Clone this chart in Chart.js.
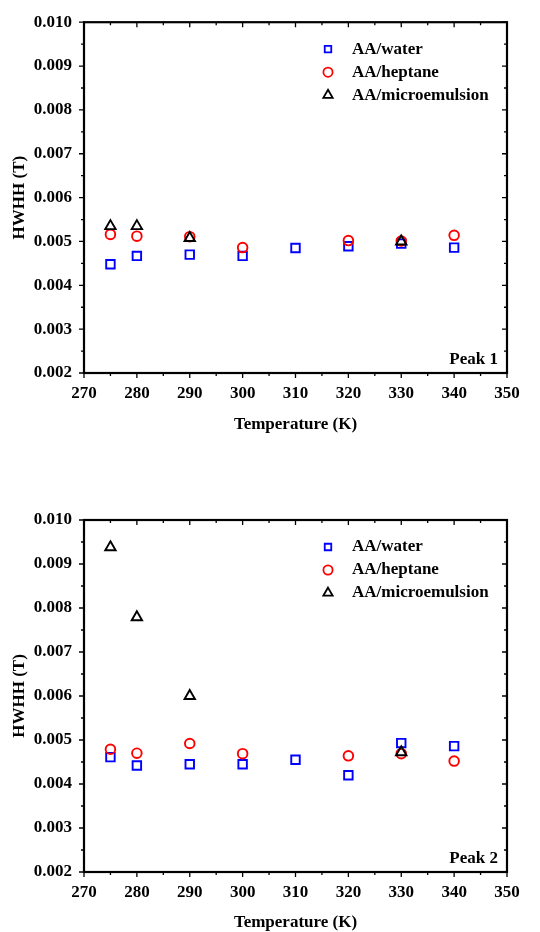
<!DOCTYPE html>
<html>
<head>
<meta charset="utf-8">
<script src="https://cdn.jsdelivr.net/npm/chart.js@4.4.1/dist/chart.umd.min.js"></script>
<style>
html, body { margin: 0; padding: 0; background: #fff; }
.panel { position: absolute; left: 0; width: 540px; height: 466px; }
</style>
</head>
<body>
<div class="panel" style="top:0"><canvas id="peak1" width="540" height="466"></canvas></div>
<div class="panel" style="top:466px"><canvas id="peak2" width="540" height="466"></canvas></div>
<script>
// temperatures (K)
const waterTemps = [275, 280, 290, 300, 310, 320, 330, 340];
const heptaneTemps = [275, 280, 290, 300, 320, 330, 340];
const microTemps = [275, 280, 290, 330];

// HWHH (T), peak 1
const peak1Water = [0.00448, 0.00467, 0.00470, 0.00467, 0.00485, 0.00489, 0.00495, 0.00486];
const peak1Heptane = [0.00516, 0.00512, 0.00511, 0.00486, 0.00502, 0.00501, 0.00514];
const peak1Micro = [0.00535, 0.00535, 0.00508, 0.00500];

// HWHH (T), peak 2
const peak2Water = [0.00461, 0.00442, 0.00445, 0.00445, 0.00455, 0.00420, 0.00493, 0.00486];
const peak2Heptane = [0.00479, 0.00470, 0.00492, 0.00469, 0.00464, 0.00469, 0.00452];
const peak2Micro = [0.00938, 0.00779, 0.00600, 0.00472];

const seriesNames = ['AA/water', 'AA/heptane', 'AA/microemulsion'];
const xTickLabels = ['270', '280', '290', '300', '310', '320', '330', '340', '350'];
const yTickLabels = ['0.002', '0.003', '0.004', '0.005', '0.006', '0.007', '0.008', '0.009', '0.010'];

const FONT = "'Liberation Serif', 'Times New Roman', serif";

function pts(xs, ys) {
    return xs.map((x, i) => ({ x: x, y: ys[i] }));
}

function marker(ctx, style, x, y, r, color) {
    ctx.save();
    ctx.strokeStyle = color;
    ctx.lineWidth = 1.8;
    ctx.beginPath();
    if (style === 'rect') {
        const s = r * Math.SQRT1_2;
        ctx.rect(x - s, y - s, 2 * s, 2 * s);
    } else if (style === 'circle') {
        ctx.arc(x, y, r, 0, Math.PI * 2);
    } else {
        ctx.moveTo(x, y - r);
        ctx.lineTo(x + Math.sin(Math.PI * 2 / 3) * r, y + r / 2);
        ctx.lineTo(x - Math.sin(Math.PI * 2 / 3) * r, y + r / 2);
        ctx.closePath();
    }
    ctx.stroke();
    ctx.restore();
}

// box, mirrored ticks, legend and panel label
const framePlugin = {
    id: 'frame',
    afterDraw(chart, args, opts) {
        const ctx = chart.ctx;
        const a = chart.chartArea;
        const xs = chart.scales.x, ys = chart.scales.y;
        ctx.save();
        ctx.strokeStyle = '#000';
        ctx.lineWidth = 1.3;
        // x ticks every 5 K
        for (let v = 270; v <= 350; v += 5) {
            const px = xs.getPixelForValue(v);
            const len = v % 10 === 0 ? 5 : 3;
            ctx.beginPath();
            ctx.moveTo(px, a.bottom); ctx.lineTo(px, a.bottom + len);
            ctx.moveTo(px, a.top); ctx.lineTo(px, a.top + len);
            ctx.stroke();
        }
        // y ticks every 0.0005
        for (let i = 0; i <= 16; i++) {
            const py = ys.getPixelForValue(0.002 + i * 0.0005);
            const len = i % 2 === 0 ? 5 : 3;
            ctx.beginPath();
            ctx.moveTo(a.left, py); ctx.lineTo(a.left - len, py);
            ctx.moveTo(a.right, py); ctx.lineTo(a.right - len, py);
            ctx.stroke();
        }
        ctx.lineWidth = 2.2;
        ctx.strokeRect(a.left, a.top, a.right - a.left, a.bottom - a.top);

        // legend
        ctx.font = 'bold 17px ' + FONT;
        ctx.textBaseline = 'middle';
        ctx.textAlign = 'left';
        ctx.fillStyle = '#000';
        chart.data.datasets.forEach((ds, i) => {
            const y = a.top + 27 + i * 23;
            marker(ctx, ds.pointStyle, a.left + 244, y, ds.pointStyle === 'triangle' ? 5.4 : 4.6, ds.borderColor);
            ctx.fillText(ds.label, a.left + 268, y);
        });

        ctx.textAlign = 'right';
        ctx.fillText(opts.label, a.right - 9, a.bottom - 13.5);
        ctx.restore();
    }
};

function makeChart(id, water, heptane, micro, label, padTop, xHeight, titlePad) {
    const ctx = document.getElementById(id).getContext('2d');
    return new Chart(ctx, {
        type: 'scatter',
        data: {
            datasets: [
                {
                    label: seriesNames[0],
                    data: pts(waterTemps, water),
                    pointStyle: 'rect',
                    pointRadius: 6,
                    borderColor: '#0000ff',
                    backgroundColor: 'rgba(0,0,0,0)',
                    borderWidth: 1.9,
                    order: 3
                },
                {
                    label: seriesNames[1],
                    data: pts(heptaneTemps, heptane),
                    pointStyle: 'circle',
                    pointRadius: 4.8,
                    borderColor: '#ff0000',
                    backgroundColor: 'rgba(0,0,0,0)',
                    borderWidth: 1.9,
                    order: 2
                },
                {
                    label: seriesNames[2],
                    data: pts(microTemps, micro),
                    pointStyle: 'triangle',
                    pointRadius: 6,
                    borderColor: '#000000',
                    backgroundColor: 'rgba(0,0,0,0)',
                    borderWidth: 1.9,
                    order: 1
                }
            ]
        },
        options: {
            responsive: false,
            animation: false,
            devicePixelRatio: 1,
            layout: { padding: { top: padTop, right: 33, left: 0, bottom: 0 } },
            plugins: {
                legend: { display: false },
                tooltip: { enabled: false },
                frame: { label: label }
            },
            scales: {
                x: {
                    type: 'linear',
                    min: 270,
                    max: 350,
                    grid: { display: false, drawTicks: false, tickLength: 0 },
                    border: { display: false },
                    afterBuildTicks: (s) => { s.ticks = xTickLabels.map(t => ({ value: +t })); },
                    afterFit: (s) => { s.height = xHeight; },
                    ticks: {
                        padding: 10,
                        color: '#000',
                        maxRotation: 0,
                        font: { family: FONT, size: 17, weight: 'bold' },
                        callback: (v, i) => xTickLabels[i]
                    },
                    title: {
                        display: true,
                        text: 'Temperature (K)',
                        color: '#000',
                        padding: { top: 0, bottom: titlePad },
                        font: { family: FONT, size: 17, weight: 'bold', lineHeight: 1 }
                    }
                },
                y: {
                    type: 'linear',
                    min: 0.002,
                    max: 0.010,
                    grid: { display: false, drawTicks: false, tickLength: 0 },
                    border: { display: false },
                    afterBuildTicks: (s) => { s.ticks = yTickLabels.map(t => ({ value: +t })); },
                    afterFit: (s) => { s.width = 84; },
                    ticks: {
                        padding: 12,
                        color: '#000',
                        font: { family: FONT, size: 17, weight: 'bold' },
                        callback: (v, i) => yTickLabels[i]
                    },
                    title: {
                        display: true,
                        text: 'HWHH (T)',
                        color: '#000',
                        padding: { top: 11, bottom: 0 },
                        font: { family: FONT, size: 17, weight: 'bold', lineHeight: 1 }
                    }
                }
            }
        },
        plugins: [framePlugin]
    });
}

makeChart('peak1', peak1Water, peak1Heptane, peak1Micro, 'Peak 1', 21, 93, 32.5);
makeChart('peak2', peak2Water, peak2Heptane, peak2Micro, 'Peak 2', 54, 60, 0.5);
</script>
</body>
</html>
